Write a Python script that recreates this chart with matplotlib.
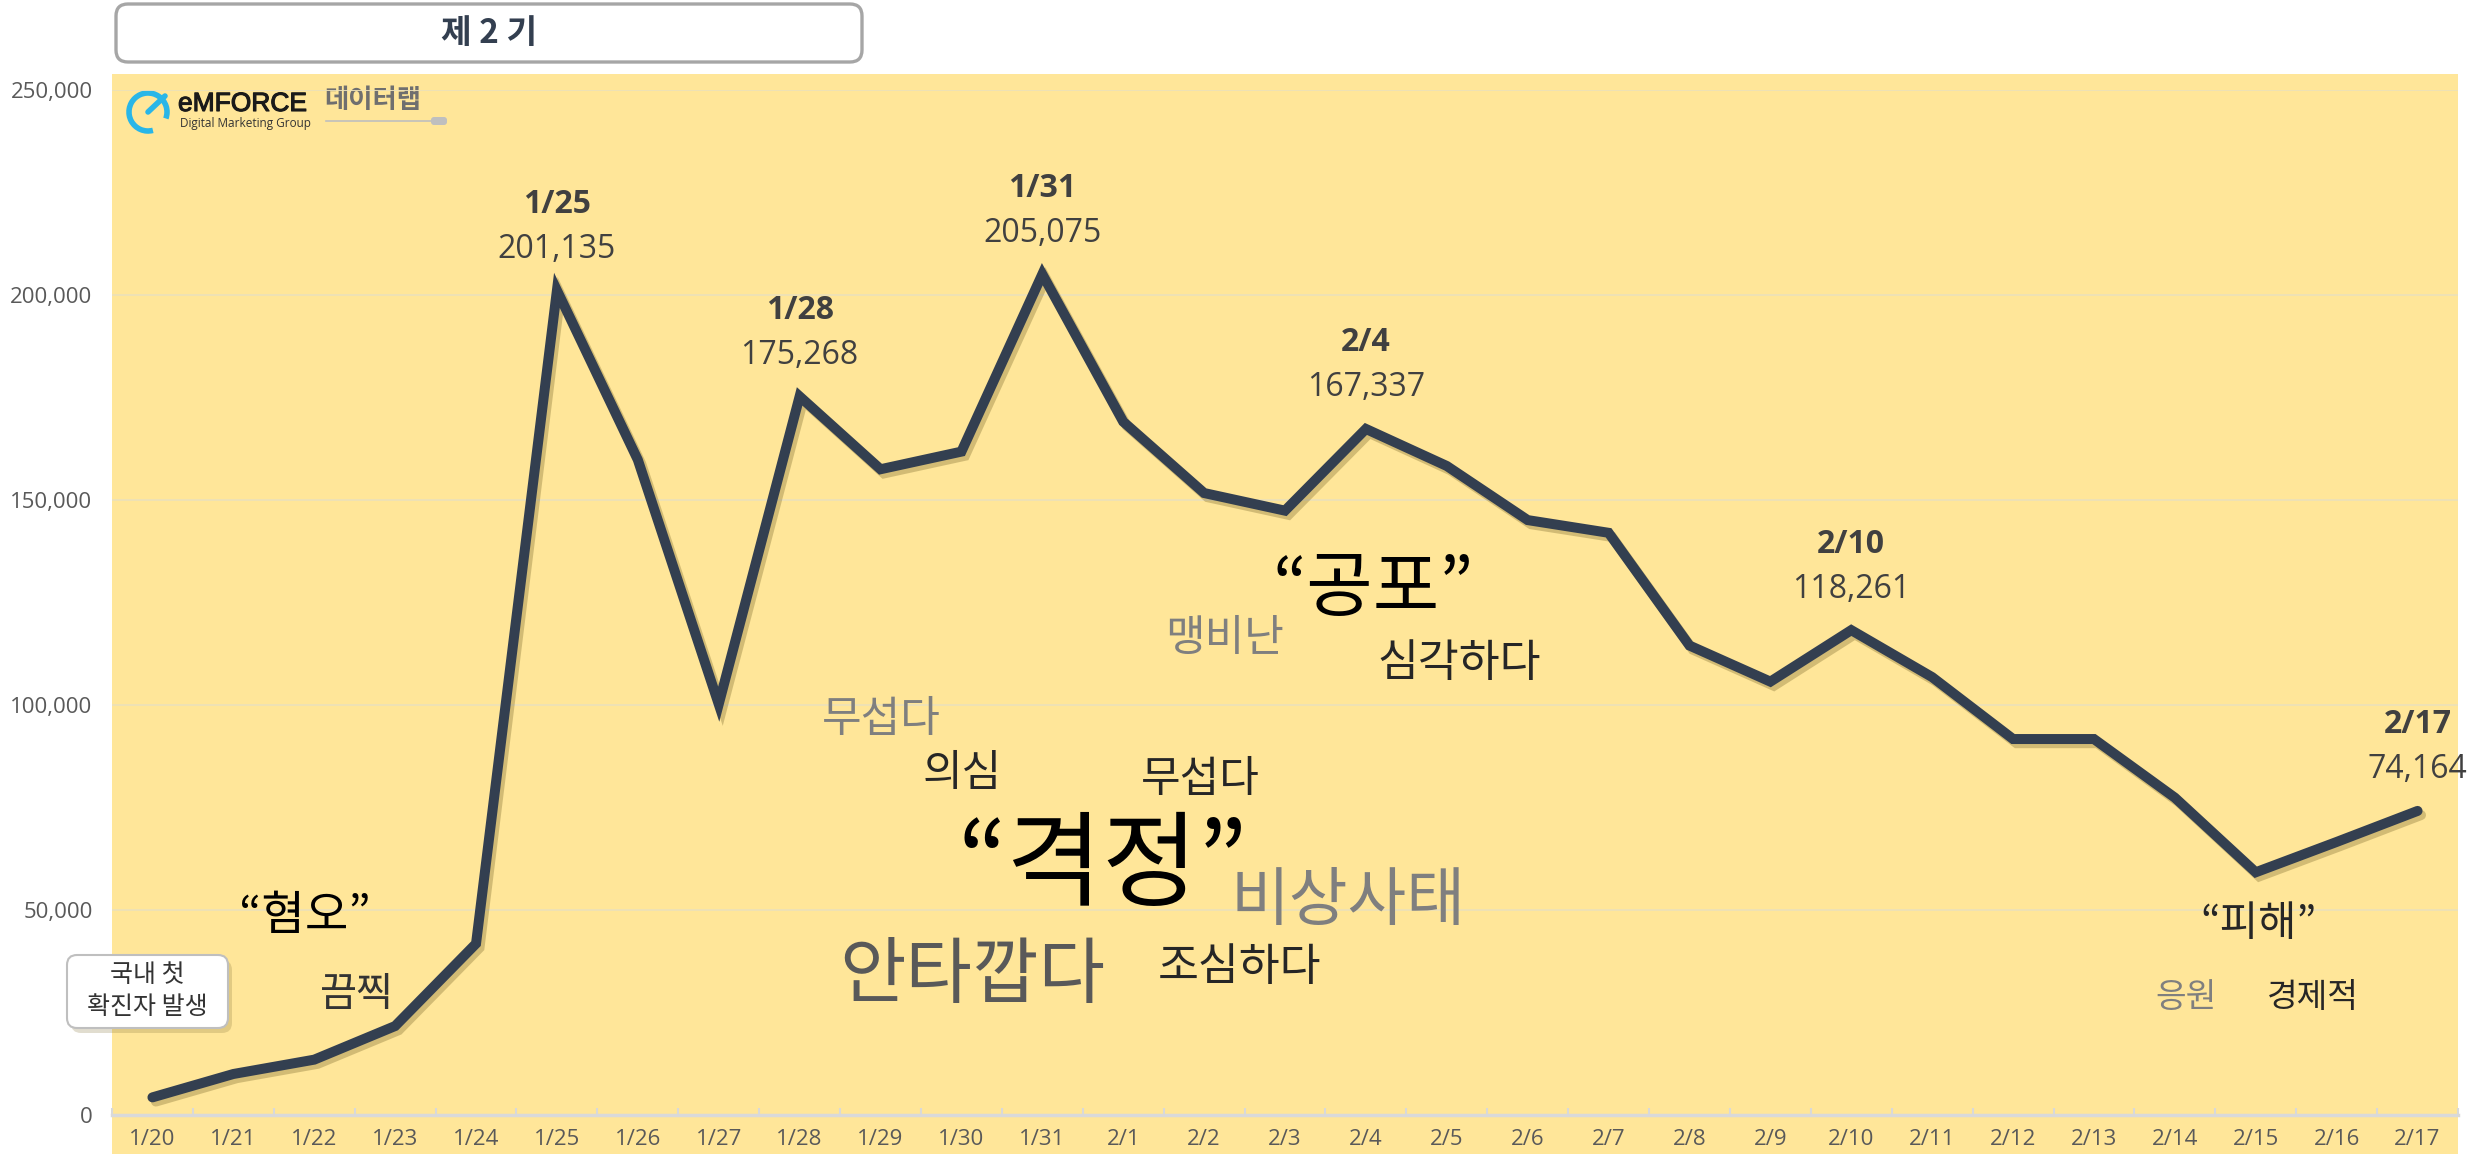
import matplotlib
matplotlib.use('Agg')
import matplotlib.pyplot as plt
import matplotlib.patheffects as pe
from matplotlib.patches import FancyBboxPatch, Rectangle, Arc
from matplotlib.ticker import FuncFormatter, FixedLocator

plt.rcParams['font.family'] = ['Open Sans', 'Noto Sans CJK KR', 'DejaVu Sans']

# daily mention counts, 1/20 - 2/17
dates = ['1/20', '1/21', '1/22', '1/23', '1/24', '1/25', '1/26', '1/27', '1/28', '1/29',
         '1/30', '1/31', '2/1', '2/2', '2/3', '2/4', '2/5', '2/6', '2/7', '2/8',
         '2/9', '2/10', '2/11', '2/12', '2/13', '2/14', '2/15', '2/16', '2/17']
counts = [4300, 10000, 13500, 21700, 41800, 201135, 159800, 100200, 175268, 157500,
          161800, 205075, 169100, 151700, 147400, 167337, 158300, 145100, 142000, 114500,
          105700, 118261, 106800, 91700, 91700, 77400, 59200, 66600, 74164]
peak_dates = ['1/25', '1/28', '1/31', '2/4', '2/10', '2/17']

# keyword cloud: (word, x position in category units, y value, size, colour)
words = [
    ('“혐오”', 1.88, 48400, 34, '#000000'),
    ('끔찍', 2.53, 29400, 29, '#333333'),
    ('무섭다', 9.01, 96400, 31, '#7F7F7F'),
    ('의심', 10.01, 83200, 31, '#262626'),
    ('무섭다', 12.95, 81700, 31, '#262626'),
    ('“격정”', 11.75, 60000, 75, '#000000'),
    ('비상사태', 14.78, 51900, 46, '#7F7F7F'),
    ('안타깝다', 10.13, 33700, 52, '#595959'),
    ('조심하다', 13.44, 36000, 32, '#262626'),
    ('맹비난', 13.25, 116100, 31, '#7F7F7F'),
    ('“공포”', 15.09, 128100, 52, '#000000'),
    ('심각하다', 16.15, 110300, 32, '#262626'),
    ('“피해”', 26.04, 46400, 30, '#262626'),
    ('응원', 25.14, 28600, 24, '#7F7F7F'),
    ('경제적', 26.71, 28600, 24, '#262626'),
]

W, H = 2488, 1154
fig = plt.figure(figsize=(W / 100, H / 100), dpi=100)
fig.patch.set_facecolor('white')

# decoration layer in pixel coordinates
deco = fig.add_axes([0, 0, 1, 1])
deco.set_xlim(0, W)
deco.set_ylim(H, 0)
deco.axis('off')

deco.add_patch(Rectangle((112, 74), 2346, H - 74, color='#FFE699', lw=0))

deco.add_patch(FancyBboxPatch((116, 4), 746, 58, boxstyle='round,pad=0,rounding_size=12',
                              fc='white', ec='#A6A6A6', lw=2.4))
deco.text(489, 33, '제 2 기', ha='center', va='center', fontsize=24, fontweight='bold',
          color='#333F50', family=['Noto Sans CJK KR', 'DejaVu Sans'])

# logo
deco.add_patch(Arc((148, 112), 38, 38, theta1=75, theta2=20, color='#29B6E8', lw=4))
deco.plot([148, 165], [112, 96], color='#29B6E8', lw=4, solid_capstyle='round')
deco.text(178, 104, 'eMFORCE', ha='left', va='center', fontsize=19, color='#1a1a1a',
          family='Liberation Sans', path_effects=[pe.withStroke(linewidth=0.8, foreground='#1a1a1a')])
deco.text(324, 101, '데이터랩', ha='left', va='center', fontsize=19, fontweight='bold',
          color='#6F6F6F', family=['Noto Sans CJK KR', 'DejaVu Sans'])
deco.text(180, 124, 'Digital Marketing Group', ha='left', va='center', fontsize=8.5,
          color='#333333')
deco.plot([326, 432], [121, 121], color='#BFBFBF', lw=1.2)
deco.add_patch(FancyBboxPatch((431, 117), 16, 8, boxstyle='round,pad=0,rounding_size=3',
                              fc='#BFBFBF', ec='none'))

# note box
deco.add_patch(FancyBboxPatch((71, 960), 161, 73, boxstyle='round,pad=0,rounding_size=10',
                              fc='#8a7a40', ec='none', alpha=0.25))
deco.add_patch(FancyBboxPatch((67, 955), 161, 73, boxstyle='round,pad=0,rounding_size=10',
                              fc='white', ec='#BFBFBF', lw=1.5))
deco.text(147, 991, '국내 첫\n확진자 발생', ha='center', va='center', fontsize=18,
          color='#333333', linespacing=1.25, family=['Noto Sans CJK KR', 'DejaVu Sans'])

# main chart
ax = fig.add_axes([112 / W, 39 / H, 2346 / W, 1025 / H])
ax.patch.set_alpha(0)
x = list(range(len(dates)))
ax.plot(x, counts, color='#333F50', lw=7.2, solid_joinstyle='miter', solid_capstyle='round',
        zorder=5,
        path_effects=[pe.SimpleLineShadow(offset=(2.5, -3), shadow_color='#6b5a20', alpha=0.3),
                      pe.Normal()])

ax.set_xlim(-0.5, len(dates) - 0.5)
ax.set_ylim(0, 250000)
ax.set_yticks(range(0, 250001, 50000))
ax.yaxis.set_major_formatter(FuncFormatter(lambda v, p: f'{int(v):,}'))
ax.set_xticks(x)
ax.set_xticklabels(dates)
ax.xaxis.set_minor_locator(FixedLocator([i - 0.5 for i in range(len(dates) + 1)]))
ax.tick_params(axis='x', which='major', length=0, pad=10, labelsize=16, labelcolor='#595959')
ax.tick_params(axis='x', which='minor', length=5, width=1.5, direction='in', color='#D9D9D9')
ax.tick_params(axis='y', length=0, pad=14, labelsize=16, labelcolor='#595959')
ax.grid(axis='y', color='#EDE1B8', lw=1.3)
ax.set_axisbelow(True)
for s in ['top', 'right', 'left']:
    ax.spines[s].set_visible(False)
ax.spines['bottom'].set_color('#D9D9D9')
ax.spines['bottom'].set_linewidth(2.5)

for d in peak_dates:
    i = dates.index(d)
    ax.annotate(f'{counts[i]:,}', (i, counts[i]), xytext=(0, 29.5), textcoords='offset points',
                ha='center', va='center', fontsize=23, color='#404040', zorder=6,
                annotation_clip=False)
    ax.annotate(d, (i, counts[i]), xytext=(0, 62), textcoords='offset points',
                ha='center', va='center', fontsize=23, fontweight='bold', color='#404040',
                zorder=6, annotation_clip=False)

for w, wx, wy, size, col in words:
    ax.text(wx, wy, w, ha='center', va='center', fontsize=size, color=col,
            family=['Noto Sans CJK KR', 'DejaVu Sans'], zorder=4)

fig.savefig('out.png', dpi=100)
